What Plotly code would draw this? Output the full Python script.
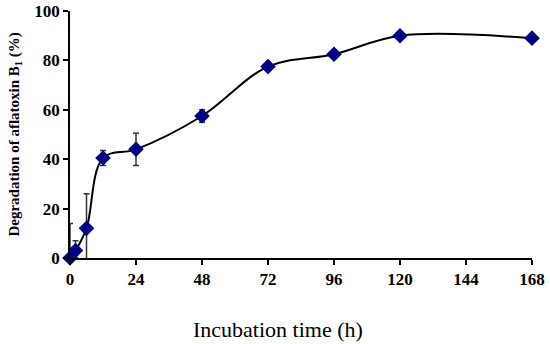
import plotly.graph_objects as go

hours = [0, 2, 6, 12, 24, 48, 72, 96, 120, 168]
degradation = [0, 3, 12, 40.5, 44, 57.5, 77.5, 82.5, 90, 89]
err_plus = [14, 4, 14, 3, 6.5, 2.5, 1, 1, 0.8, 0.8]
err_minus = [0, 3, 14, 3, 6.5, 2.5, 1, 1, 0.8, 0.8]
x_ticks = [0, 24, 48, 72, 96, 120, 144, 168]
y_ticks = [0, 20, 40, 60, 80, 100]

fig = go.Figure()
fig.add_trace(go.Scatter(
    x=hours, y=degradation,
    mode="lines+markers",
    line=dict(color="black", width=2, shape="spline", smoothing=1.0),
    marker=dict(symbol="diamond", size=12, color="#000080"),
    error_y=dict(type="data", array=err_plus, arrayminus=err_minus,
                 color="#333333", thickness=1.5, width=3),
    cliponaxis=False,
))

serif = "Liberation Serif, Times New Roman, serif"
fig.update_layout(
    width=550, height=344,
    margin=dict(l=70, r=18, t=11, b=86),
    paper_bgcolor="white", plot_bgcolor="white",
    showlegend=False,
    xaxis=dict(
        range=[0, 168], tickvals=x_ticks, ticktext=[str(v) for v in x_ticks],
        showline=True, linecolor="black", linewidth=1.5,
        ticks="outside", ticklen=5, tickcolor="black", tickwidth=1.5,
        showgrid=False, zeroline=False, automargin=False,
        tickfont=dict(family=serif, size=17, color="black", weight="bold"),
    ),
    yaxis=dict(
        range=[0, 100], tickvals=y_ticks,
        showline=True, linecolor="black", linewidth=1.5,
        ticks="outside", ticklen=5, tickcolor="black", tickwidth=1.5,
        showgrid=False, zeroline=False, automargin=False,
        tickfont=dict(family=serif, size=17, color="black", weight="bold"),
    ),
    annotations=[
        dict(text="Incubation time (h)", xref="paper", yref="paper",
             x=0.45, y=-0.29, xanchor="center", yanchor="middle", showarrow=False,
             font=dict(family=serif, size=22, color="black")),
        dict(text="<b>Degradation of aflatoxin B<sub>1</sub> (%)</b>", xref="paper", yref="paper",
             x=-0.121, y=0.5, xanchor="center", yanchor="middle", showarrow=False, textangle=-90,
             font=dict(family=serif, size=15, color="black")),
    ],
)
fig.write_html("out.html", config={"displayModeBar": False},
               post_script="document.body.style.margin='0';")
